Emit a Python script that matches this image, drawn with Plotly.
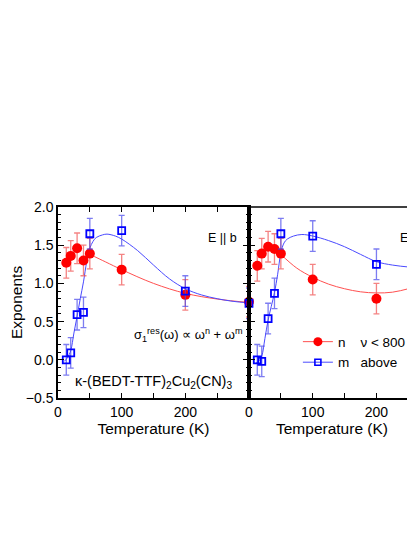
import plotly.graph_objects as go

# ---------------- data ----------------
# E || b panel
T_b = [13, 20, 30, 40, 50, 100, 200, 300]
n_b = [1.27, 1.36, 1.46, 1.30, 1.39, 1.18, 0.85, 0.76]
m_b = [0.00, 0.09, 0.59, 0.62, 1.65, 1.69, 0.90, 0.74]
err_b = [0.2] * 8

# fit curves, E || b
fitT_n_b = [50, 75, 100, 150, 200, 250, 300]
fit_n_b = [1.38, 1.28, 1.18, 1.00, 0.87, 0.795, 0.75]
fitT_m_b = [10, 15, 20, 25, 30, 35, 40, 45, 50, 55, 60, 70, 77, 90, 100, 125, 150, 175, 200, 225, 250, 275, 300]
fit_m_b = [-0.02, 0.03, 0.12, 0.35, 0.57, 0.80, 1.02, 1.28, 1.46, 1.55, 1.60, 1.635, 1.645, 1.62, 1.58, 1.43, 1.24, 1.06, 0.93, 0.85, 0.80, 0.765, 0.745]

# E || a panel
T_a = [13, 20, 30, 40, 50, 100, 200]
n_a = [1.23, 1.39, 1.48, 1.45, 1.39, 1.05, 0.80]
m_a = [0.00, -0.02, 0.54, 0.87, 1.65, 1.62, 1.25]
err_a = [0.2] * 7

fitT_n_a = [50, 75, 100, 125, 150, 175, 200, 225, 250, 275]
fit_n_a = [1.38, 1.20, 1.08, 0.99, 0.93, 0.89, 0.875, 0.885, 0.93, 0.99]
fitT_m_a = [10, 15, 20, 25, 30, 35, 40, 45, 50, 55, 60, 70, 83, 100, 125, 150, 175, 200, 225, 250, 275]
fit_m_a = [-0.05, -0.02, 0.05, 0.28, 0.52, 0.70, 0.88, 1.12, 1.40, 1.53, 1.58, 1.62, 1.64, 1.62, 1.56, 1.48, 1.38, 1.285, 1.24, 1.215, 1.20]

x_ticks = [0, 50, 100, 150, 200, 250, 300]
x_ticktext = ["0", "", "100", "", "200", "", ""]

RED = "#ff0000"
RED_LINE = "#ff5050"
RED_ERR = "rgba(240,90,90,0.75)"
BLUE = "#0000ff"
BLUE_LINE = "#4a4aff"
BLUE_ERR = "rgba(70,70,235,0.7)"
FONT = "Liberation Sans, Arial, sans-serif"

fig = go.Figure()

def add_panel(xa, ya, T, n, m, err, fTn, fn, fTm, fm):
    fig.add_trace(go.Scatter(x=fTn, y=fn, mode="lines", line=dict(color=RED_LINE, width=1, shape="spline"),
                             xaxis=xa, yaxis=ya, showlegend=False, hoverinfo="skip"))
    fig.add_trace(go.Scatter(x=fTm, y=fm, mode="lines", line=dict(color=BLUE_LINE, width=1, shape="spline"),
                             xaxis=xa, yaxis=ya, showlegend=False, hoverinfo="skip"))
    fig.add_trace(go.Scatter(x=T, y=n, mode="markers",
                             marker=dict(symbol="circle", size=10, color=RED, line=dict(width=0)),
                             error_y=dict(type="data", array=err, color=RED_ERR, thickness=1.3, width=3),
                             xaxis=xa, yaxis=ya, showlegend=False, cliponaxis=False))
    fig.add_trace(go.Scatter(x=T, y=m, mode="markers",
                             marker=dict(symbol="square-open", size=7, color=BLUE, line=dict(width=1.8, color=BLUE)),
                             error_y=dict(type="data", array=err, color=BLUE_ERR, thickness=1.3, width=3),
                             xaxis=xa, yaxis=ya, showlegend=False, cliponaxis=False))

add_panel("x", "y", T_b, n_b, m_b, err_b, fitT_n_b, fit_n_b, fitT_m_b, fit_m_b)
add_panel("x2", "y2", T_a, n_a, m_a, err_a, fitT_n_a, fit_n_a, fitT_m_a, fit_m_a)

# legend entries
fig.add_trace(go.Scatter(x=[None], y=[None], mode="lines+markers", xaxis="x2", yaxis="y2",
                         name="n\u00a0\u00a0\u00a0\u00a0ν < 800 cm<sup>-1</sup>",
                         line=dict(color=RED_LINE, width=1),
                         marker=dict(symbol="circle", size=9, color=RED)))
fig.add_trace(go.Scatter(x=[None], y=[None], mode="lines+markers", xaxis="x2", yaxis="y2",
                         name="m\u00a0\u00a0\u00a0above",
                         line=dict(color=BLUE_LINE, width=1),
                         marker=dict(symbol="square-open", size=6, color=BLUE, line=dict(width=1.6, color=BLUE))))

axis_common = dict(showgrid=False, zeroline=False, showline=True, linecolor="black", linewidth=1.5,
                   ticks="inside", tickcolor="black", tickwidth=1.2,
                   tickfont=dict(family=FONT, size=14, color="black"))

L = 0.535
fig.update_layout(
    width=423, height=480,
    margin=dict(l=50, r=16, t=199, b=90, autoexpand=False),
    paper_bgcolor="white", plot_bgcolor="white",
    font=dict(family=FONT, color="black"),
    xaxis=dict(**axis_common, domain=[0, L], range=[0, 300], tickvals=x_ticks, ticktext=x_ticktext,
               ticklen=5, mirror="ticks",
               title=dict(text="Temperature (K)", font=dict(size=15.5), standoff=3)),
    yaxis=dict(**axis_common, range=[-0.5, 2.0], dtick=0.5, tickformat=".1f", ticklen=6, mirror="ticks",
               minor=dict(dtick=0.1, ticklen=3, ticks="inside", tickcolor="black", tickwidth=1.2),
               title=dict(text="Exponents", font=dict(size=15.5), standoff=6)),
    xaxis2=dict(**axis_common, domain=[L, 1], range=[0, 260.5], tickvals=x_ticks, ticktext=x_ticktext,
                ticklen=5, mirror=False, anchor="y2",
                title=dict(text="Temperature (K)", font=dict(size=15.5), standoff=3)),
    yaxis2=dict(**axis_common, range=[-0.5, 2.0], dtick=0.5, ticklen=6, showticklabels=False, anchor="x2",
                minor=dict(dtick=0.1, ticklen=3, ticks="inside", tickcolor="black", tickwidth=1.2)),
    showlegend=True,
    legend=dict(x=0.672, y=0.375, xanchor="left", yanchor="top", bgcolor="rgba(0,0,0,0)",
                font=dict(family=FONT, size=13.5), tracegroupgap=0, itemwidth=30),
)

# top border for right panel
fig.add_shape(type="line", xref="x2 domain", yref="y2 domain", x0=0, x1=1, y0=1, y1=1,
              line=dict(color="black", width=1.5))

fig.add_annotation(x=233, y=1.6, xref="x", yref="y", text="E || b", showarrow=False,
                   xanchor="left", yanchor="middle", font=dict(size=12.5))
fig.add_annotation(x=234, y=1.6, xref="x2", yref="y2", text="E || a", showarrow=False,
                   xanchor="left", yanchor="middle", font=dict(size=12.5))
fig.add_annotation(x=116, y=0.32, xref="x", yref="y",
                   text="σ<sub>1</sub><sup>res</sup>(ω) ∝ ω<sup>n</sup> + ω<sup>m</sup>",
                   showarrow=False, xanchor="left", yanchor="middle", font=dict(size=13))
fig.add_annotation(x=23, y=-0.29, xref="x", yref="y",
                   text="κ-(BEDT-TTF)<sub>2</sub>Cu<sub>2</sub>(CN)<sub>3</sub>",
                   showarrow=False, xanchor="left", yanchor="middle", font=dict(size=14.5))

fig.write_html("out.html")
